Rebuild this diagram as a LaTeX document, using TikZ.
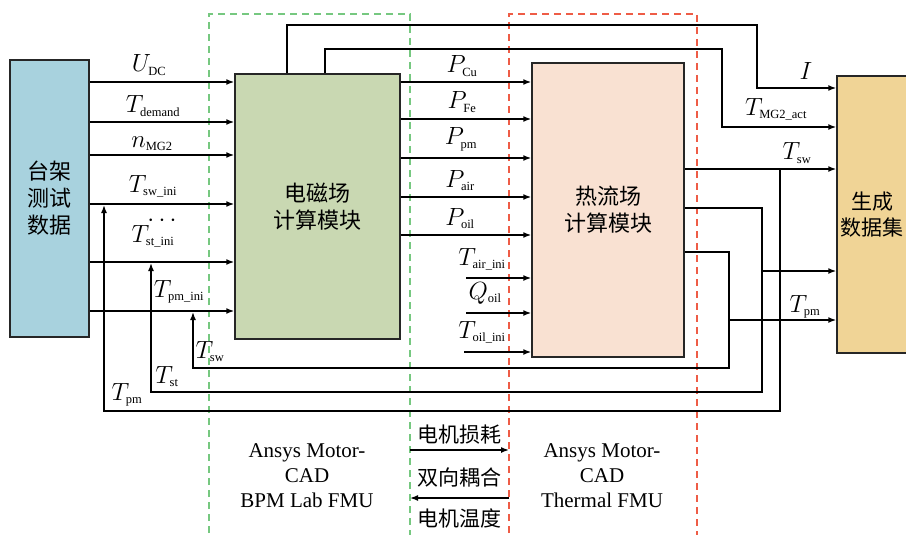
\documentclass[tikz,border=0pt]{standalone}
\usepackage{fontspec}
\setmainfont{Liberation Serif}
\newfontfamily\cjk{Noto Sans CJK SC}
\usetikzlibrary{arrows.meta,positioning}

\definecolor{testblue}{RGB}{168,210,222}
\definecolor{emgreen}{RGB}{201,216,178}
\definecolor{heatpink}{RGB}{249,225,210}
\definecolor{setgold}{RGB}{240,212,150}
\definecolor{fmugreen}{RGB}{118,200,128}
\definecolor{fmured}{RGB}{238,92,70}

\newcommand{\sub}[1]{\mbox{\fontsize{12.5}{13}\selectfont #1}}

\tikzset{
	blk/.style={draw=black!85, line width=1.5pt, inner sep=0pt, align=center,
		font=\cjk\fontsize{22}{27}\selectfont},
	arr/.style={line width=1.5pt, -{Latex[length=8pt,width=6pt]}},
	lab/.style={anchor=base, inner sep=0pt, font=\fontsize{23}{26}\selectfont},
	frame/.style={line width=1.1pt, dash pattern=on 7pt off 5pt},
	fmutext/.style={inner sep=0pt, align=center, font=\fontsize{21}{25}\selectfont},
	zh/.style={inner sep=0pt, font=\cjk\fontsize{21}{25}\selectfont},
}

\begin{document}
\begin{tikzpicture}[x=1pt, y=-1pt]
	\useasboundingbox (0,0) rectangle (906,535);
	% FMU frames
	\draw[frame, fmugreen] (209,545) |- (410,14) -- (410,545);
	\draw[frame, fmured] (509,545) |- (697,14) -- (697,545);

	% blocks
	\node[blk, fill=testblue, minimum width=79pt, minimum height=277pt] (data) at (49.5,198.5) {台架\\测试\\数据};
	\node[blk, fill=emgreen, minimum width=165pt, minimum height=265pt] (em) at (317.5,206.5) {电磁场\\计算模块};
	\node[blk, fill=heatpink, minimum width=152pt, minimum height=294pt] (heat) at (608,210) {热流场\\计算模块};
	\node[blk, fill=setgold, minimum width=70pt, minimum height=277pt,
		font=\cjk\fontsize{21}{26}\selectfont] (set) at (872,214.5) {生成\\数据集};

	% test data -> EM
	\foreach \y in {82, 122, 155, 204, 262, 311}
		\draw[arr] (data.east |- 0,\y) -- (em.west |- 0,\y);
	\node[lab] (lUdc) at (149,72) {$U_{\sub{DC}}$};
	\node[lab] (lTdem) at (153,113) {$T_{\sub{demand}}$};
	\node[lab] (lnmg) at (152,147) {$n_{\sub{MG2}}$};
	\node[lab] (lTswi) at (153,192) {$T_{\sub{sw\_ini}}$};
	\node[lab] (ldots) at (162,226) {$\cdots$};
	\node[lab] (lTsti) at (153,242) {$T_{\sub{st\_ini}}$};
	\node[lab] (lTpmi) at (179,297) {$T_{\sub{pm\_ini}}$};

	% EM -> heat
	\foreach \y in {82, 119, 158, 197, 235}
		\draw[arr] (em.east |- 0,\y) -- (heat.west |- 0,\y);
	\node[lab] (lPcu) at (462,73) {$P_{\sub{Cu}}$};
	\node[lab] (lPfe) at (462,109) {$P_{\sub{Fe}}$};
	\node[lab] (lPpm) at (461,145) {$P_{\sub{pm}}$};
	\node[lab] (lPair) at (460,187) {$P_{\sub{air}}$};
	\node[lab] (lPoil) at (460,225) {$P_{\sub{oil}}$};

	% boundary inputs of heat
	\foreach \x/\y [count=\i] in {466/278, 466/313, 464/352} {
		\coordinate (hin\i) at (\x,\y);
		\draw[arr] (hin\i) -- (heat.west |- hin\i);
	}
	\node[lab] (lTairi) at (482,265) {$T_{\sub{air\_ini}}$};
	\node[lab] (lQoil) at (485,299) {$Q_{\sub{oil}}$};
	\node[lab] (lToili) at (482,338) {$T_{\sub{oil\_ini}}$};

	% EM -> data set
	\draw[arr] (em.north -| 287,0) |- (757,25) |- (set.west |- 0,88);
	\draw[arr] (em.north -| 325,0) |- (722,49) |- (set.west |- 0,127);
	\node[lab] (lI) at (806,80) {$I$};
	\node[lab] (lTmg) at (776,115) {$T_{\sub{MG2\_act}}$};

	% heat -> data set and feedback
	\coordinate (jsw) at (780,169);
	\coordinate (jst) at (762,271);
	\coordinate (jpm) at (729,320);
	\draw[arr] (heat.east |- jsw) -- (set.west |- jsw);
	\draw[arr] (jsw) |- (104,411) -- (104,205);
	\draw[arr] (heat.east |- 0,208) -| (762,392) -| (151,263);
	\draw[arr] (jst) -- (set.west |- jst);
	\draw[arr] (heat.east |- 0,252) -| (729,368) -| (193,312);
	\draw[arr] (jpm) -- (set.west |- jpm);
	\node[lab] (lTsw) at (797,160) {$T_{\sub{sw}}$};
	\node[lab] (lTpm) at (805,312) {$T_{\sub{pm}}$};
	\node[lab] (fTsw) at (210,358) {$T_{\sub{sw}}$};
	\node[lab] (fTst) at (167,383) {$T_{\sub{st}}$};
	\node[lab] (fTpm) at (127,400) {$T_{\sub{pm}}$};

	% FMU captions
	\node[fmutext] (bpm) at (307,476) {Ansys Motor-\\CAD\\BPM Lab FMU};
	\node[fmutext] (thm) at (602,476) {Ansys Motor-\\CAD\\Thermal FMU};
	\node[zh] (loss) at (459,435) {电机损耗};
	\node[zh] (coup) at (459,478) {双向耦合};
	\node[zh] (temp) at (459,518) {电机温度};
	\coordinate (gr) at (410,450);
	\coordinate (rd) at (509,450);
	\draw[arr] (gr) -- (rd);
	\draw[arr] (rd |- 0,498) -- (gr |- 0,498);
\end{tikzpicture}
\end{document}
